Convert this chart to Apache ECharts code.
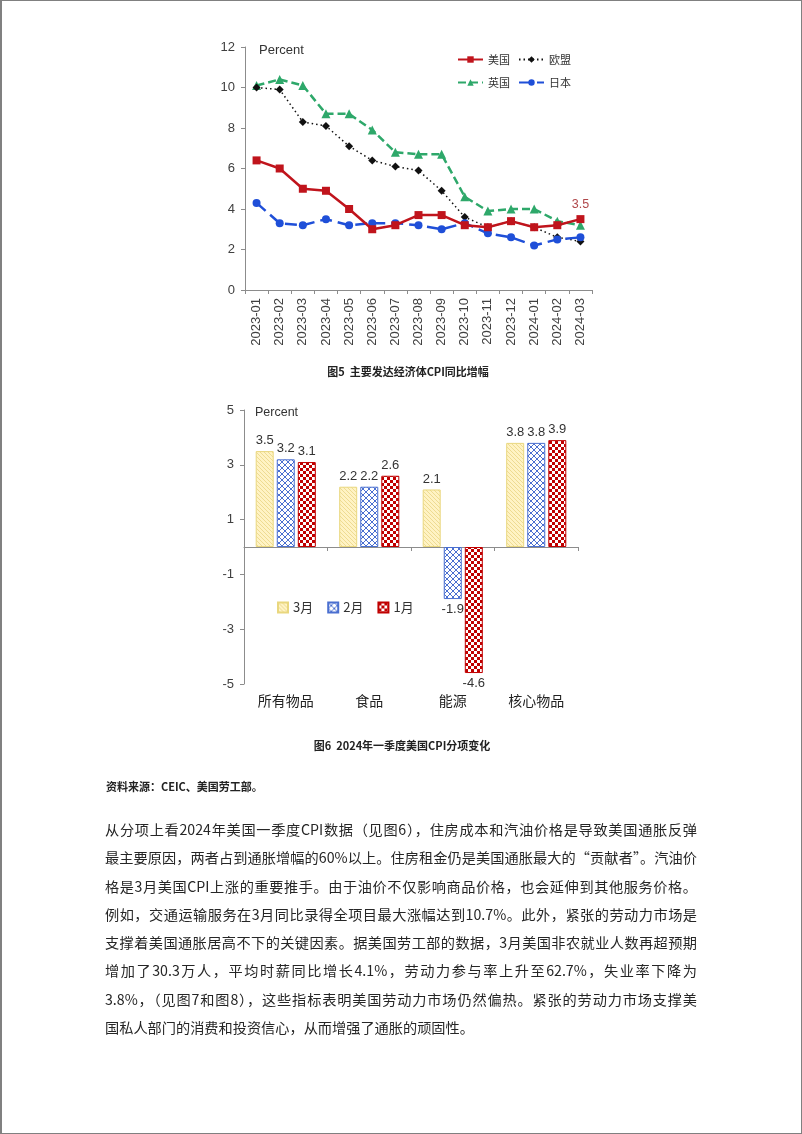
<!DOCTYPE html>
<html>
<head>
<meta charset="utf-8">
<script src="https://cdn.jsdelivr.net/npm/echarts/dist/echarts.min.js"></script>
<style>
  html, body { margin: 0; padding: 0; background: #fff; }
  #page { position: relative; width: 802px; height: 1134px; overflow: hidden; }
  #frame { position: absolute; left: 0; top: 0; width: 802px; height: 1134px; box-sizing: border-box; border: 1px solid #808080; border-left-width: 2px; pointer-events: none; }
  #chart { position: absolute; left: 0; top: 0; width: 802px; height: 1134px; }
  .cap { position: absolute; font-family: "Noto Sans CJK SC", sans-serif; font-weight: bold; font-size: 11px; color: #222; white-space: nowrap; line-height: 16px; }
  .para { position: absolute; left: 105px; width: 592px; font-family: "Noto Sans CJK SC", sans-serif; font-size: 14.2px; color: #262626; line-height: 28.3px; }
  .para div { white-space: nowrap; text-align: justify; text-align-last: justify; height: 28.3px; }
  .para div.last { text-align-last: left; }
</style>
</head>
<body>
<div id="page">
  <div id="chart"></div>
  <div class="cap" id="cap5" style="left:0;width:816px;text-align:center;top:363px;">图5&nbsp;&nbsp;主要发达经济体CPI同比增幅</div>
  <div class="cap" id="cap6" style="left:0;width:804px;text-align:center;top:737px;">图6&nbsp;&nbsp;2024年一季度美国CPI分项变化</div>
  <div class="cap" style="left:106px;top:778px;">资料来源：CEIC、美国劳工部。</div>
  <div class="para" id="para" style="top:815px;"></div>
  <div id="frame"></div>
</div>
<script>
// ---------- data: Figure 5 ----------
const months = ['2023-01','2023-02','2023-03','2023-04','2023-05','2023-06','2023-07','2023-08','2023-09','2023-10','2023-11','2023-12','2024-01','2024-02','2024-03'];
const usCPI = [6.4, 6.0, 5.0, 4.9, 4.0, 3.0, 3.2, 3.7, 3.7, 3.2, 3.1, 3.4, 3.1, 3.2, 3.5];
const euCPI = [10.0, 9.9, 8.3, 8.1, 7.1, 6.4, 6.1, 5.9, 4.9, 3.6, 3.1, 3.4, 3.1, 2.6, 2.4];
const ukCPI = [10.1, 10.4, 10.1, 8.7, 8.7, 7.9, 6.8, 6.7, 6.7, 4.6, 3.9, 4.0, 4.0, 3.4, 3.2];
const jpCPI = [4.3, 3.3, 3.2, 3.5, 3.2, 3.3, 3.3, 3.2, 3.0, 3.3, 2.8, 2.6, 2.2, 2.5, 2.6];
const lineSeriesNames = ['美国', '欧盟', '英国', '日本'];

// ---------- data: Figure 6 ----------
const items = ['所有物品', '食品', '能源', '核心物品'];
const marVals = [3.5, 2.2, 2.1, 3.8];
const febVals = [3.2, 2.2, -1.9, 3.8];
const janVals = [3.1, 2.6, -4.6, 3.9];
const barSeriesNames = ['3月', '2月', '1月'];

// ---------- text ----------
const paraLines = [
  '从分项上看2024年美国一季度CPI数据（见图6），住房成本和汽油价格是导致美国通胀反弹',
  '最主要原因，两者占到通胀增幅的60%以上。住房租金仍是美国通胀最大的“贡献者”。汽油价',
  '格是3月美国CPI上涨的重要推手。由于油价不仅影响商品价格，也会延伸到其他服务价格。',
  '例如，交通运输服务在3月同比录得全项目最大涨幅达到10.7%。此外，紧张的劳动力市场是',
  '支撑着美国通胀居高不下的关键因素。据美国劳工部的数据，3月美国非农就业人数再超预期',
  '增加了30.3万人，平均时薪同比增长4.1%，劳动力参与率上升至62.7%，失业率下降为',
  '3.8%，（见图7和图8），这些指标表明美国劳动力市场仍然偏热。紧张的劳动力市场支撑美',
  '国私人部门的消费和投资信心，从而增强了通胀的顽固性。'
];
const para = document.getElementById('para');
paraLines.forEach((t, i) => {
  const d = document.createElement('div');
  d.textContent = t;
  if (i === paraLines.length - 1) d.className = 'last';
  para.appendChild(d);
});

// ---------- patterns ----------
function makePattern(w, h, draw) {
  const c = document.createElement('canvas');
  c.width = w; c.height = h;
  draw(c.getContext('2d'), w, h);
  return c;
}
const yellowPat = makePattern(4, 4, (ctx) => {
  ctx.fillStyle = '#FFF3C4'; ctx.fillRect(0, 0, 4, 4);
  ctx.fillStyle = '#EEDB92';
  ctx.fillRect(0, 0, 1, 1); ctx.fillRect(1, 1, 1, 1); ctx.fillRect(2, 2, 1, 1); ctx.fillRect(3, 3, 1, 1);
});
const bluePat = makePattern(6, 6, (ctx) => {
  ctx.fillStyle = '#ffffff'; ctx.fillRect(0, 0, 6, 6);
  ctx.strokeStyle = '#4A6FD0'; ctx.lineWidth = 1;
  ctx.beginPath();
  ctx.moveTo(-1, -1); ctx.lineTo(7, 7);
  ctx.moveTo(7, -1); ctx.lineTo(-1, 7);
  ctx.stroke();
});
const redPat = makePattern(6, 6, (ctx) => {
  ctx.fillStyle = '#ffffff'; ctx.fillRect(0, 0, 6, 6);
  ctx.fillStyle = '#C00000';
  ctx.fillRect(0, 0, 3, 3); ctx.fillRect(3, 3, 3, 3);
});

const numFont = 'Liberation Sans';
const cjkFont = 'Noto Sans CJK SC';
const axisGray = '#8c8c8c';
const labelGray = '#404040';

const lineStyleCommon = { smooth: false, xAxisIndex: 0, yAxisIndex: 0, z: 3 };

function barData(vals) {
  return vals.map(v => ({ value: v, label: { position: v < 0 ? 'bottom' : 'top' } }));
}
function barSeries(name, vals, pat, border) {
  return {
    name: name, type: 'bar', xAxisIndex: 1, yAxisIndex: 1,
    barWidth: 18, barGap: '17%',
    data: barData(vals),
    itemStyle: { color: { image: pat, repeat: 'repeat' }, borderColor: border, borderWidth: 1 },
    label: { show: true, distance: 4, fontFamily: numFont, fontSize: 13, color: '#333' },
    emphasis: { disabled: true }
  };
}

const chart = echarts.init(document.getElementById('chart'), null, { renderer: 'canvas' });
chart.setOption({
  animation: false,
  backgroundColor: '#ffffff',
  grid: [
    { left: 245, right: 210, top: 47, bottom: 844, containLabel: false, outerBoundsMode: 'none' },
    { left: 244, right: 224, top: 410, bottom: 450, containLabel: false, outerBoundsMode: 'none' }
  ],
  legend: [
    { data: ['美国', '欧盟'], left: 457, top: 54, padding: 0, orient: 'horizontal', itemWidth: 25, itemHeight: 8, itemGap: 8,
      textStyle: { fontFamily: cjkFont, fontSize: 11, color: '#333' }, selectedMode: false },
    { data: ['英国', '日本'], left: 457, top: 77, padding: 0, orient: 'horizontal', itemWidth: 25, itemHeight: 8, itemGap: 8,
      textStyle: { fontFamily: cjkFont, fontSize: 11, color: '#333' }, selectedMode: false },
    { data: barSeriesNames, left: 277, top: 601, padding: 0, orient: 'horizontal', itemWidth: 10, itemHeight: 10, itemGap: 14,
      icon: 'rect', textStyle: { fontFamily: cjkFont, fontSize: 13, color: '#333' }, selectedMode: false }
  ],
  xAxis: [
    { type: 'category', gridIndex: 0, data: months, boundaryGap: true,
      axisLine: { show: true, lineStyle: { color: axisGray, width: 1 } },
      axisTick: { show: true, length: 4, lineStyle: { color: axisGray } },
      axisLabel: { rotate: 90, interval: 0, margin: 8, fontFamily: numFont, fontSize: 13, color: labelGray },
      splitLine: { show: false } },
    { type: 'category', gridIndex: 1, data: items, position: 'bottom', boundaryGap: true,
      axisLine: { show: false, onZero: false }, axisTick: { show: false },
      axisLabel: { interval: 0, margin: 10, fontFamily: cjkFont, fontSize: 14, color: '#222' },
      splitLine: { show: false } },
    { type: 'category', gridIndex: 1, data: items, position: 'top', boundaryGap: true,
      axisLine: { show: true, onZero: true, lineStyle: { color: axisGray, width: 1 } },
      axisTick: { show: true, inside: true, length: 4, lineStyle: { color: axisGray } },
      axisLabel: { show: false }, splitLine: { show: false } }
  ],
  yAxis: [
    { type: 'value', gridIndex: 0, min: 0, max: 12, interval: 2,
      axisLine: { show: true, lineStyle: { color: axisGray, width: 1 } },
      axisTick: { show: true, length: 4, lineStyle: { color: axisGray } },
      axisLabel: { margin: 10, fontFamily: numFont, fontSize: 13, color: labelGray },
      splitLine: { show: false } },
    { type: 'value', gridIndex: 1, min: -5, max: 5, interval: 2,
      axisLine: { show: true, onZero: false, lineStyle: { color: axisGray, width: 1 } },
      axisTick: { show: true, length: 4, lineStyle: { color: axisGray } },
      axisLabel: { margin: 10, fontFamily: numFont, fontSize: 13, color: labelGray },
      splitLine: { show: false } }
  ],
  graphic: [
    { type: 'text', left: 259, top: 44, style: { text: 'Percent', fontFamily: numFont, fontSize: 13, fill: '#333' } },
    { type: 'text', left: 255, top: 406, style: { text: 'Percent', fontFamily: numFont, fontSize: 12.5, fill: '#333' } }
  ],
  series: [
    Object.assign({}, lineStyleCommon, {
      name: lineSeriesNames[2], type: 'line', data: ukCPI,
      symbol: 'triangle', symbolSize: 9,
      lineStyle: { color: '#2EA86A', width: 2.5, type: [8, 4] },
      itemStyle: { color: '#2EA86A' }
    }),
    Object.assign({}, lineStyleCommon, {
      name: lineSeriesNames[1], type: 'line', data: euCPI,
      symbol: 'diamond', symbolSize: 8,
      lineStyle: { color: '#111', width: 1.5, type: [1.5, 3] },
      itemStyle: { color: '#111' }
    }),
    Object.assign({}, lineStyleCommon, {
      name: lineSeriesNames[3], type: 'line', data: jpCPI,
      symbol: 'circle', symbolSize: 8,
      lineStyle: { color: '#1F4FD8', width: 2.5, type: [12, 6] },
      itemStyle: { color: '#1F4FD8' }
    }),
    Object.assign({}, lineStyleCommon, {
      name: lineSeriesNames[0], type: 'line', data: usCPI, z: 4,
      symbol: 'rect', symbolSize: 8,
      lineStyle: { color: '#C0141C', width: 2.5 },
      itemStyle: { color: '#C0141C' },
      label: { show: true, position: 'top', distance: 4, fontFamily: numFont, fontSize: 12.5, color: '#B0474A',
        formatter: (p) => p.dataIndex === usCPI.length - 1 ? String(p.value) : '' }
    }),
    barSeries(barSeriesNames[0], marVals, yellowPat, '#E9D77E'),
    barSeries(barSeriesNames[1], febVals, bluePat, '#4A6FD0'),
    barSeries(barSeriesNames[2], janVals, redPat, '#C00000')
  ]
});
</script>
</body>
</html>
